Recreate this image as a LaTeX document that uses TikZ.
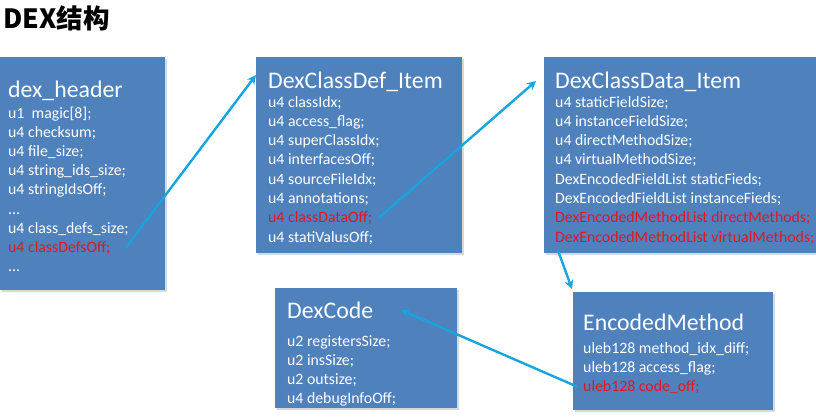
\documentclass[tikz,border=0pt]{standalone}
\usepackage{fontspec}
\setmainfont{Carlito}
\newfontfamily\cjk{Noto Sans CJK SC}
\usetikzlibrary{calc,shadows,arrows.meta}

\definecolor{boxblue}{RGB}{79,129,189}
\definecolor{ptrblue}{RGB}{24,164,222}
\definecolor{offred}{RGB}{224,22,36}

\tikzset{
  structbox/.style={fill=boxblue, anchor=north west, inner sep=0pt,
    drop shadow={shadow xshift=1.5pt, shadow yshift=-2pt, opacity=0.3}},
  structtitle/.style={anchor=base west, inner sep=0pt, text=white,
    font=\fontsize{23.8}{28}\selectfont},
  field/.style={anchor=base west, inner sep=0pt,
    font=\fontsize{15.8}{19}\selectfont},
  ptr/.style={draw=ptrblue, line width=2.4pt, -{Stealth[length=9pt,width=9pt]}},
}

\begin{document}
\begin{tikzpicture}[x=1pt, y=-1pt]

\useasboundingbox (0,0) rectangle (816,418);

% Heading
\node[anchor=base west, inner sep=0pt, font=\cjk\bfseries\fontsize{26.5}{30}\selectfont]
  (title) at (3,28) {DEX结构};

% Boxes
\node[structbox, minimum width=165pt, minimum height=233pt] (header)    at (0,57) {};
\node[structbox, minimum width=206pt, minimum height=196pt] (classdef)  at (256,57) {};
\node[structbox, minimum width=272pt, minimum height=196pt] (classdata) at (544,57) {};
\node[structbox, minimum width=182pt, minimum height=120pt] (dexcode)   at (275,288) {};
\node[structbox, minimum width=200pt, minimum height=118pt] (encoded)   at (573,292) {};

% dex_header
\node[structtitle] (header-t) at (8,97) {dex\_header};
\foreach \txt/\clr [count=\i] in {u1~ magic[8];/white, u4 checksum;/white,
    u4 file\_size;/white, u4 string\_ids\_size;/white, u4 stringIdsOff;/white,
    {...}/white, u4 class\_defs\_size;/white, u4 classDefsOff;/offred, {...}/white}
  \node[field, text=\clr] (hdr-\i) at (8,{118+19.2*(\i-1)}) {\txt};

% DexClassDef_Item
\node[structtitle] (classdef-t) at (268,88) {DexClassDef\_Item};
\foreach \txt/\clr [count=\i] in {u4 classIdx;/white, u4 access\_flag;/white,
    u4 superClassIdx;/white, u4 interfacesOff;/white, u4 sourceFileIdx;/white,
    u4 annotations;/white, u4 classDataOff;/offred, u4 statiValusOff;/white}
  \node[field, text=\clr] (def-\i) at (268,{107+19.3*(\i-1)}) {\txt};

% DexClassData_Item
\node[structtitle] (classdata-t) at (555,88) {DexClassData\_Item};
\foreach \txt/\clr [count=\i] in {u4 staticFieldSize;/white,
    u4 instanceFieldSize;/white, u4 directMethodSize;/white,
    u4 virtualMethodSize;/white, DexEncodedFieldList staticFieds;/white,
    DexEncodedFieldList instanceFieds;/white,
    DexEncodedMethodList directMethods;/offred,
    DexEncodedMethodList virtualMethods;/offred}
  \node[field, text=\clr] (data-\i) at (555,{107+19.3*(\i-1)}) {\txt};

% DexCode
\node[structtitle] (dexcode-t) at (287,318) {DexCode};
\foreach \txt [count=\i] in {u2 registersSize;, u2 insSize;, u2 outsize;,
    u4 debugInfoOff;}
  \node[field, text=white] (code-\i) at (287,{346+19*(\i-1)}) {\txt};

% EncodedMethod
\node[structtitle] (encoded-t) at (583,330) {EncodedMethod};
\foreach \txt/\clr [count=\i] in {uleb128 method\_idx\_diff;/white,
    uleb128 access\_flag;/white, uleb128 code\_off;/offred}
  \node[field, text=\clr] (enc-\i) at (583,{353+19*(\i-1)}) {\txt};

% Pointers
\draw[ptr] ([xshift=15pt]hdr-8.east) -- ([yshift=-18pt]classdef.north west);
\draw[ptr] ([xshift=6pt]def-7.east) -- ([xshift=-8pt,yshift=-24pt]classdata.north west);
\draw[ptr] ([xshift=14pt,yshift=3pt]classdata.south west) -- ([xshift=-1pt,yshift=3pt]encoded.north west);
\draw[ptr] ([xshift=-6pt]enc-3.west) -- ([xshift=126pt,yshift=-22pt]dexcode.north west);

\end{tikzpicture}
\end{document}
